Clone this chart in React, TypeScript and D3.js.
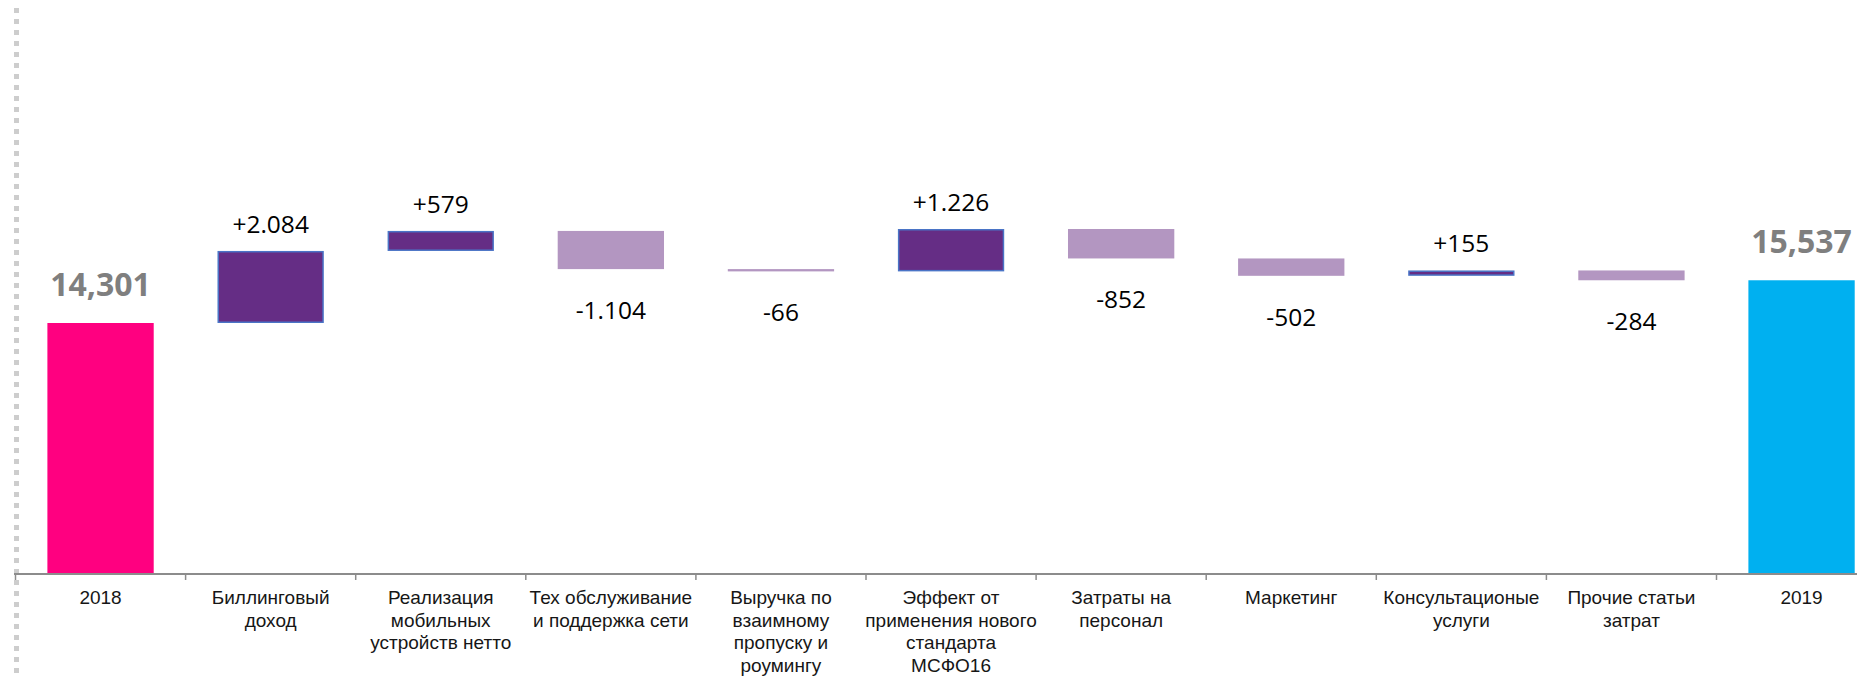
import React from "react";
import * as d3 from "d3";

const categories: string[][] = [
  ["2018"],
  ["Биллинговый", "доход"],
  ["Реализация", "мобильных", "устройств нетто"],
  ["Тех обслуживание", "и поддержка сети"],
  ["Выручка по", "взаимному", "пропуску и", "роумингу"],
  ["Эффект от", "применения нового", "стандарта", "МСФО16"],
  ["Затраты на", "персонал"],
  ["Маркетинг"],
  ["Консультационые", "услуги"],
  ["Прочие статьи", "затрат"],
  ["2019"],
];
const startTotal = 14301;
const deltas = [2084, 579, -1104, -66, 1226, -852, -502, 155, -284];
const endTotal = 15537;
const yDomain = [7000, 24000];

const W = 1857;
const H = 678;

const deltaFmt = d3.formatLocale({ decimal: ",", thousands: ".", grouping: [3], currency: ["", ""] }).format(",d");
const totalFmt = d3.format(",d");

export default function App() {
  const keys = categories.map((_, i) => String(i));
  const x = d3
    .scaleBand<string>()
    .domain(keys)
    .range([15.5, 15.5 + 11 * 170.1])
    .paddingInner(0.375)
    .paddingOuter(0.1875);
  const y = d3.scaleLinear().domain(yDomain).range([575.4, -12.3]);
  const axisY = 574;
  const step = x.step();

  let running = startTotal;
  const steps = deltas.map((d, i) => {
    const from = running;
    running += d;
    return { i: i + 1, from, to: running, d };
  });

  const totals = [
    { i: 0, v: startTotal, color: "#FF0080" },
    { i: 10, v: endTotal, color: "#00B0F0" },
  ];

  return (
    <svg
      width={W}
      height={H}
      style={{ position: "absolute", left: 0, top: 0, display: "block" }}
    >
      <rect width={W} height={H} fill="#ffffff" />
      {/* left dotted line */}
      <line x1={16.5} x2={16.5} y1={8} y2={H} stroke="#CDCDCD" strokeWidth={5} strokeDasharray="5 6" />

      {/* totals */}
      {totals.map((t) => (
        <g key={"t" + t.i}>
          <rect
            x={x(String(t.i))!}
            width={x.bandwidth()}
            y={y(t.v)}
            height={axisY - y(t.v)}
            fill={t.color}
          />
          <text
            x={x(String(t.i))! + x.bandwidth() / 2}
            y={y(t.v) - 27}
            textAnchor="middle"
            fontFamily="'Open Sans', sans-serif"
            fontWeight={700}
            fontSize={32}
            fill="#7F7F7F"
          >
            {totalFmt(t.v)}
          </text>
        </g>
      ))}

      {/* deltas */}
      {steps.map((s) => {
        const top = y(Math.max(s.from, s.to));
        const bot = y(Math.min(s.from, s.to));
        const pos = s.d > 0;
        const cx = x(String(s.i))! + x.bandwidth() / 2;
        return (
          <g key={"d" + s.i}>
            {pos ? (
              <rect
                x={x(String(s.i))! + 0.75}
                width={x.bandwidth() - 1.5}
                y={top + 0.75}
                height={Math.max(bot - top - 1.5, 0.5)}
                fill="#652D85"
                stroke="#4A74C6"
                strokeWidth={1.5}
              />
            ) : (
              <rect
                x={x(String(s.i))!}
                width={x.bandwidth()}
                y={top}
                height={bot - top}
                fill="#B396C1"
              />
            )}
            <text
              x={cx}
              y={pos ? top - 18 : bot + 50}
              textAnchor="middle"
              fontFamily="'Open Sans', sans-serif"
              fontSize={24.5}
              fill="#000000"
            >
              {(pos ? "+" : "-") + deltaFmt(Math.abs(s.d))}
            </text>
          </g>
        );
      })}

      {/* axis */}
      <line x1={14} x2={W} y1={axisY} y2={axisY} stroke="#8C8C8C" strokeWidth={2} />
      {d3.range(0, 12).map((k) => {
        const tx = 15.5 + k * step;
        return <line key={"tk" + k} x1={tx} x2={tx} y1={axisY} y2={axisY + 6} stroke="#8C8C8C" strokeWidth={1.5} />;
      })}
      {categories.map((lines, i) => (
        <text
          key={"c" + i}
          x={x(String(i))! + x.bandwidth() / 2}
          y={604}
          textAnchor="middle"
          fontFamily="'Liberation Sans', Arial, sans-serif"
          fontSize={19}
          fill="#161616"
        >
          {lines.map((ln, j) => (
            <tspan key={j} x={x(String(i))! + x.bandwidth() / 2} dy={j === 0 ? 0 : 22.5}>
              {ln}
            </tspan>
          ))}
        </text>
      ))}
    </svg>
  );
}
